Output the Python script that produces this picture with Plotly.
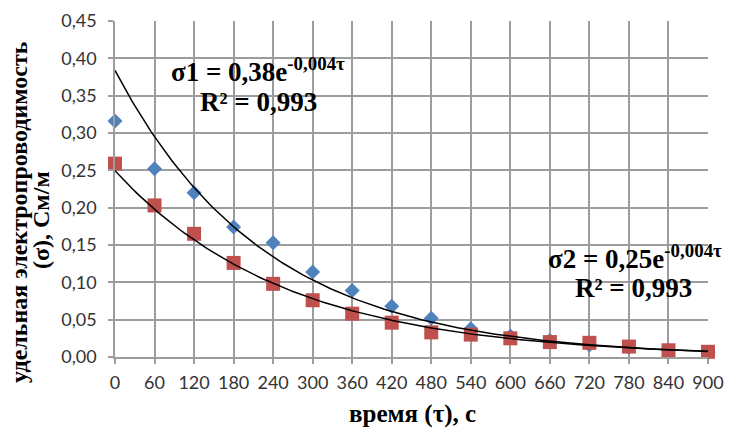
import numpy as np
import plotly.graph_objects as go

time_s = [0, 60, 120, 180, 240, 300, 360, 420, 480, 540, 600, 660, 720, 780, 840, 900]
sigma1 = [0.316, 0.252, 0.220, 0.174, 0.153, 0.114, 0.089, 0.068, 0.052, 0.038, 0.028, 0.022, 0.016, 0.013, 0.009, 0.006]
sigma2 = [0.259, 0.203, 0.165, 0.126, 0.098, 0.076, 0.058, 0.046, 0.033, 0.030, 0.025, 0.020, 0.019, 0.014, 0.009, 0.007]
y_ticks = [0, 0.05, 0.10, 0.15, 0.20, 0.25, 0.30, 0.35, 0.40, 0.45]

BLUE = "#4F81BD"
RED = "#C0504D"
SERIF = "Liberation Serif"
SANS = "Lato"

# plot-area geometry in pixels (for placing annotations)
L, R, T, B = 115, 708, 21, 357


def px(x):
    return (x - L) / (R - L)


def py(y):
    return (B - y) / (B - T)


def exp_fit(x, y):
    b, ln_a = np.polyfit(np.array(x, float), np.log(np.array(y, float)), 1)
    return np.exp(ln_a), b


xs = np.linspace(0, 900, 181)
a1, b1 = exp_fit(time_s, sigma1)
a2, b2 = exp_fit(time_s, sigma2)

fig = go.Figure()
fig.add_trace(go.Scatter(x=time_s, y=sigma1, mode="markers", cliponaxis=False,
                         marker=dict(symbol="diamond", size=11.5, color=BLUE),
                         showlegend=False))
fig.add_trace(go.Scatter(x=time_s, y=sigma2, mode="markers", cliponaxis=False,
                         marker=dict(symbol="square", size=14, color=RED),
                         showlegend=False))
fig.add_trace(go.Scatter(x=xs, y=a1 * np.exp(b1 * xs), mode="lines",
                         line=dict(color="black", width=1.5), showlegend=False))
fig.add_trace(go.Scatter(x=xs, y=a2 * np.exp(b2 * xs), mode="lines",
                         line=dict(color="black", width=1.5), showlegend=False))

axis_common = dict(showgrid=True, gridcolor="#9C9C9C", gridwidth=1.5,
                   showline=True, linecolor="#9C9C9C", linewidth=1.5,
                   ticks="outside", ticklen=5, tickcolor="#9C9C9C", tickwidth=1.5,
                   zeroline=False, automargin=False,
                   tickfont=dict(family=SANS, size=18, color="#333333"))

fig.update_layout(
    width=730, height=428,
    margin=dict(l=L, r=730 - R, t=T, b=428 - B),
    paper_bgcolor="white", plot_bgcolor="white",
    separators=", ",
    font=dict(family=SANS, size=18, color="#333333"),
    xaxis=dict(range=[0, 900], tickmode="array", tickvals=time_s,
               ticktext=[str(v) for v in time_s], ticklabelstandoff=4,
               **axis_common),
    yaxis=dict(range=[0, 0.45], tickmode="array", tickvals=y_ticks,
               tickformat=".2f", ticklabelstandoff=8, **axis_common),
)

title_font = dict(family=SERIF, size=24, color="black")
fig.add_annotation(xref="paper", yref="paper", x=px(412), y=py(414),
                   text="<b>время (τ), с</b>", showarrow=False,
                   font=dict(family=SERIF, size=25, color="black"),
                   xanchor="center", yanchor="middle")
fig.add_annotation(xref="paper", yref="paper", x=px(19), y=py(212),
                   text="<b>удельная электропроводимость</b>",
                   showarrow=False, textangle=-90, font=title_font,
                   xanchor="center", yanchor="middle")
fig.add_annotation(xref="paper", yref="paper", x=px(41), y=py(220),
                   text="<b>(σ), См/м</b>",
                   showarrow=False, textangle=-90, font=title_font,
                   xanchor="center", yanchor="middle")

eq_font = dict(family=SERIF, size=27, color="black")
fig.add_annotation(xref="paper", yref="paper", x=px(258), y=py(70),
                   text="<b>σ1 = 0,38e<sup>-0,004τ</sup></b>",
                   showarrow=False, font=eq_font, xanchor="center", yanchor="middle")
fig.add_annotation(xref="paper", yref="paper", x=px(258), y=py(102),
                   text="<b>R² = 0,993</b>",
                   showarrow=False, font=eq_font, xanchor="center", yanchor="middle")
fig.add_annotation(xref="paper", yref="paper", x=px(635), y=py(257),
                   text="<b>σ2 = 0,25e<sup>-0,004τ</sup></b>",
                   showarrow=False, font=eq_font, xanchor="center", yanchor="middle")
fig.add_annotation(xref="paper", yref="paper", x=px(633), y=py(288),
                   text="<b>R² = 0,993</b>",
                   showarrow=False, font=eq_font, xanchor="center", yanchor="middle")

fig.write_html("out.html", config={"displayModeBar": False},
               post_script="document.body.style.margin='0';document.body.style.padding='0';")
